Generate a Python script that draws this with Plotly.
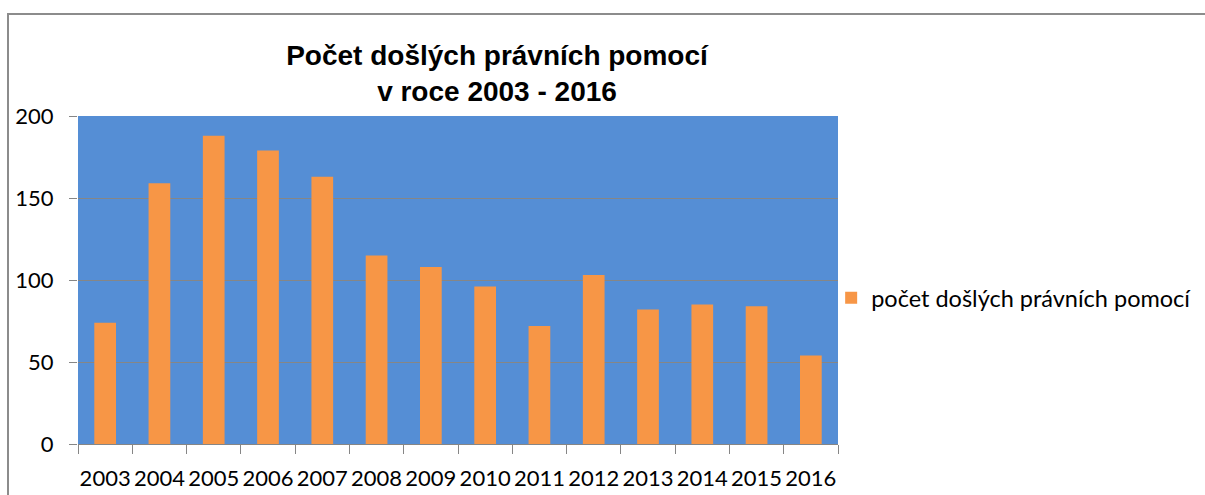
import plotly.graph_objects as go

years = ["2003", "2004", "2005", "2006", "2007", "2008", "2009", "2010",
         "2011", "2012", "2013", "2014", "2015", "2016"]
values = [74, 159, 188, 179, 163, 115, 108, 96, 72, 103, 82, 85, 84, 54]
series_name = "počet došlých právních pomocí"
title_lines = ["Počet došlých právních pomocí", "v roce 2003 - 2016"]

fig = go.Figure()
fig.add_trace(go.Bar(
    x=years, y=values, name=series_name,
    marker=dict(color="#F79646", line=dict(width=0)),
    showlegend=True,
))

fig.update_layout(
    width=1205, height=495,
    margin=dict(l=78, r=367, t=116, b=51, autoexpand=False),
    paper_bgcolor="white",
    plot_bgcolor="#558ED5",
    bargap=0.6,
    title=dict(
        text="<b>" + "<br>".join(title_lines) + "</b>",
        x=497 / 1205, xanchor="center",
        y=1 - 65 / 495, yanchor="top",
        font=dict(family="Liberation Sans, Arial", size=28, color="black"),
    ),
    legend=dict(
        x=0.991, xanchor="left", y=(444 - 298) / 328, yanchor="middle",
        font=dict(family="Lato, Open Sans", size=23.5, color="black"),
        bgcolor="rgba(0,0,0,0)",
        itemwidth=30,
    ),
    font=dict(family="Lato", color="black"),
)

fig.update_xaxes(
    type="category",
    tickson="boundaries",
    tickangle=0,
    ticks="outside", ticklen=9, tickcolor="#868686", tickwidth=1,
    showline=True, linecolor="#868686", linewidth=1,
    showgrid=False,
    tickfont=dict(family="Lato", size=22, color="black"),
    ticklabelstandoff=15,
    automargin=False,
)
fig.update_yaxes(
    range=[0, 200],
    tickvals=[0, 50, 100, 150, 200],
    ticks="outside", ticklen=8, tickcolor="#868686",
    showline=False,
    showgrid=True, gridcolor="#868686", gridwidth=1,
    zeroline=False,
    tickfont=dict(family="Lato", size=22, color="black"),
    ticklabelstandoff=11,
    automargin=False,
)

# outer chart border (extends past the right/bottom edges of the image)
fig.add_shape(
    type="rect", xref="paper", yref="paper",
    x0=(8 - 78) / 760, x1=(1215 - 78) / 760,
    y0=(444 - 505) / 328, y1=(444 - 14) / 328,
    line=dict(color="#8C8C8C", width=2), fillcolor="rgba(0,0,0,0)",
    layer="below",
)

fig.write_html("out.html", config={"displayModeBar": False},
               post_script="document.body.style.margin='0px';")
